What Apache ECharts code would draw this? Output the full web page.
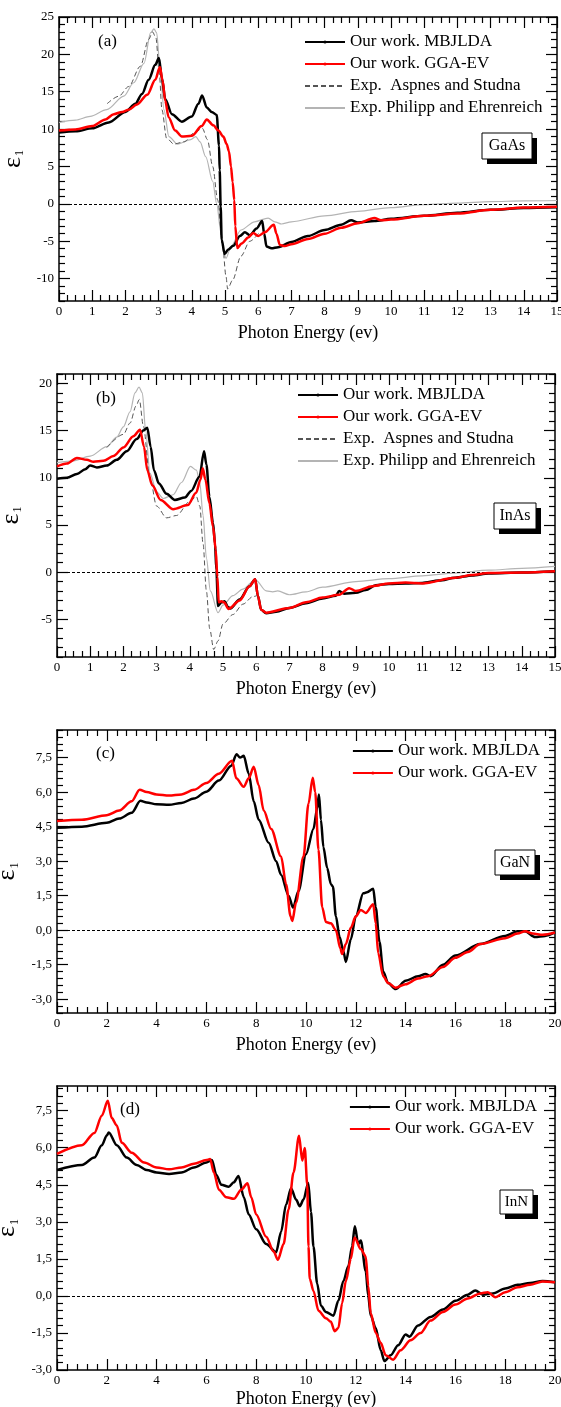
<!DOCTYPE html>
<html>
<head>
<meta charset="utf-8">
<script src="https://cdn.jsdelivr.net/npm/echarts@6/dist/echarts.min.js"></script>
<style>
  html, body { margin: 0; padding: 0; background: #fff; }
  #chart { width: 561px; height: 1407px; }
</style>
</head>
<body>
<div id="chart"></div>
<script>
// ---- data: [photon energy (eV), epsilon_1] ----
const gaasMbj = [[0,9.55],[0.5,9.7],[1,10.1],[1.5,10.9],[2,12.3],[2.3,13.4],[2.5,14.7],[2.7,16.6],[2.9,18.6],[3.01,19.5],[3.1,16.8],[3.2,14],[3.4,12],[3.7,11],[4,11.7],[4.2,13.4],[4.31,14.5],[4.45,12.9],[4.6,12.3],[4.75,11.9],[4.82,7.8],[4.84,4.5],[4.87,-0.4],[4.9,-4.8],[4.99,-6.7],[5.1,-6.1],[5.25,-5.6],[5.45,-4.3],[5.6,-3.8],[5.75,-4.2],[5.95,-3.3],[6.12,-2.3],[6.18,-4],[6.25,-5.7],[6.4,-5.95],[6.6,-5.8],[7,-5.1],[7.5,-4.3],[8,-3.5],[8.5,-2.8],[8.8,-2.2],[9,-2.5],[9.5,-2.3],[10,-2],[11,-1.6],[12,-1.2],[13,-0.8],[14,-0.55],[15,-0.45]];
const gaasGga = [[0,9.8],[0.5,9.95],[1,10.4],[1.4,11.3],[1.65,12],[1.9,12.3],[2.1,12.6],[2.35,13.3],[2.66,14.6],[2.9,16.6],[3.04,18.3],[3.12,16.5],[3.2,13.8],[3.3,11.6],[3.5,9.8],[3.7,9],[4,9.1],[4.3,10.4],[4.45,11.3],[4.65,10.5],[4.8,9.8],[4.95,9],[5.05,8],[5.12,7],[5.18,5],[5.23,2.9],[5.28,0.5],[5.31,-3],[5.37,-5.9],[5.5,-5.3],[5.7,-4.5],[5.85,-3.9],[6,-4.3],[6.2,-3.8],[6.47,-2.8],[6.55,-4],[6.65,-5.5],[6.8,-5.65],[7,-5.4],[7.5,-4.7],[8,-4],[8.5,-3.2],[9,-2.6],[9.5,-1.9],[9.7,-2.2],[10,-2.1],[11,-1.6],[12,-1.3],[13,-0.8],[14,-0.5],[15,-0.4]];
const gaasAsp = [[1.45,13.4],[1.8,14.4],[2.1,15.7],[2.45,18.4],[2.7,22],[2.82,23],[2.92,22.2],[3.02,17.5],[3.1,12.6],[3.24,8.8],[3.46,8],[3.77,8.3],[4.07,9.5],[4.32,10.1],[4.47,8.6],[4.63,5],[4.78,0.5],[4.93,-5.7],[5.03,-9.7],[5.08,-11.4],[5.23,-10.2],[5.48,-7],[5.75,-5],[6.02,-3.9]];
const gaasPhi = [[0,10.9],[0.5,11.2],[0.94,11.7],[1.44,12.6],[1.95,14.4],[2.25,16.2],[2.56,18.8],[2.76,22.9],[2.86,23.4],[2.94,22.9],[3.04,18.4],[3.16,12.6],[3.31,9],[3.57,8],[3.97,8.6],[4.12,9],[4.25,8.3],[4.42,6.3],[4.63,3],[4.75,0],[4.88,-3.9],[4.96,-6.6],[5.03,-7.3],[5.18,-5.7],[5.48,-3.5],[5.89,-2.4],[6.3,-1.9],[6.5,-2.4],[6.7,-2.7],[7,-2.4],[8,-1.6],[9,-1],[10,-0.5],[11,-0.1],[12,0.1],[13,0.3],[14,0.4],[15,0.45]];

const inasMbj = [[0,9.9],[0.3,10],[0.6,10.4],[0.85,10.9],[1,11.3],[1.2,11.1],[1.5,11.3],[1.8,11.9],[2.1,12.8],[2.4,14.1],[2.6,15],[2.72,15.3],[2.82,13.3],[2.92,10.8],[3.07,9.4],[3.3,8.3],[3.55,7.65],[3.85,7.9],[4.04,8.6],[4.29,10.1],[4.43,12.8],[4.5,11.4],[4.59,8],[4.7,5.2],[4.76,3],[4.8,0.2],[4.85,-3.6],[4.95,-3.2],[5.05,-3.1],[5.15,-3.7],[5.22,-3.85],[5.5,-2.9],[5.8,-1.5],[5.97,-0.75],[6.05,-2.5],[6.15,-4],[6.3,-4.35],[6.6,-4.2],[7,-3.8],[7.5,-3.3],[8,-2.8],[8.4,-2.5],[8.5,-2],[8.65,-2.3],[9,-2.2],[9.3,-1.9],[9.6,-1.4],[10,-1.25],[10.5,-1.2],[11,-1.15],[11.5,-0.9],[12,-0.6],[12.5,-0.35],[13,-0.15],[14,-0.05],[15,0.1]];
const inasGga = [[0,11.2],[0.3,11.5],[0.6,12.1],[0.9,11.9],[1.1,11.7],[1.4,11.8],[1.7,12.3],[2,13.2],[2.3,14.4],[2.5,15.1],[2.62,13.3],[2.72,10.8],[2.87,9.2],[3.12,7.65],[3.5,6.67],[3.94,7.1],[4.19,8.4],[4.32,9.8],[4.39,11],[4.47,9.8],[4.59,7.3],[4.7,4.8],[4.78,2.4],[4.83,-0.5],[4.87,-3.2],[4.95,-3.1],[5.03,-3.2],[5.17,-3.9],[5.5,-3],[5.8,-1.5],[5.97,-0.75],[6.05,-2.5],[6.15,-4],[6.3,-4.3],[7,-3.8],[7.5,-3.2],[8,-2.7],[8.5,-2.4],[8.8,-1.7],[9,-2],[9.5,-1.5],[10,-1.2],[10.5,-1.1],[11,-1.2],[12,-0.6],[12.5,-0.3],[13,-0.1],[14,-0.05],[15,0.1]];
const inasAsp = [[1.5,13.2],[2,14.6],[2.2,15.8],[2.38,17.6],[2.48,18.3],[2.6,15.5],[2.8,10],[3,7],[3.3,5.75],[3.6,6],[4,7.5],[4.2,8],[4.3,7],[4.4,3],[4.5,-2],[4.6,-6],[4.72,-8.2],[4.85,-7.3],[5,-5.5],[5.3,-4.5],[5.6,-3.4],[5.9,-2.6],[6.02,-2.5]];
const inasPhi = [[0,11.6],[0.5,11.8],[1,12.3],[1.5,13.3],[1.8,14.3],[2,15.4],[2.2,17],[2.35,19],[2.47,19.6],[2.57,19],[2.67,15],[2.8,10.5],[3,8.5],[3.2,7.8],[3.5,8.2],[3.75,9.5],[4.02,11.2],[4.2,10.8],[4.3,9.5],[4.4,6],[4.5,1.5],[4.62,-2],[4.85,-4.3],[5,-3.5],[5.3,-2.5],[5.6,-1.8],[5.9,-1],[6,-0.9],[6.3,-2],[6.5,-2.1],[6.65,-2],[7,-2.4],[7.5,-2.1],[8,-1.6],[9,-1],[10,-0.7],[11,-0.4],[12,-0.1],[13,0.2],[14,0.4],[15,0.6]];

const ganMbj = [[0,4.45],[1,4.5],[2,4.67],[2.5,4.85],[3,5.1],[3.35,5.62],[3.6,5.55],[4,5.47],[4.5,5.45],[5,5.53],[5.5,5.72],[6,6.02],[6.5,6.5],[7,7.15],[7.21,7.65],[7.35,7.5],[7.5,7.58],[7.7,6.8],[7.9,5.6],[8.1,4.8],[8.5,3.8],[8.8,3],[9,2.4],[9.3,1.5],[9.48,0.98],[9.7,1.7],[10,3.3],[10.3,4.4],[10.45,5.3],[10.52,5.9],[10.6,4.8],[10.7,3.6],[10.85,2.7],[11,2],[11.08,1.9],[11.2,0.6],[11.35,-0.3],[11.5,-0.9],[11.6,-1.38],[11.8,-0.4],[12,0.6],[12.3,1.6],[12.45,1.65],[12.7,1.8],[12.8,1],[12.95,-0.5],[13.1,-1.8],[13.3,-2.3],[13.6,-2.56],[14,-2.2],[14.5,-2],[14.8,-1.9],[15,-2],[15.5,-1.5],[16,-1.1],[17,-0.6],[18,-0.25],[18.5,-0.05],[18.8,-0.05],[19.2,-0.3],[19.6,-0.25],[20,-0.1]];
const ganGga = [[0,4.75],[1,4.8],[2,5],[2.5,5.2],[3,5.6],[3.32,6.1],[3.6,6],[4,5.9],[4.5,5.85],[5,5.9],[5.5,6.1],[6,6.4],[6.5,6.8],[7.03,7.36],[7.2,6.6],[7.5,6.23],[7.7,6.6],[7.9,7.1],[8.1,6.3],[8.3,5.2],[8.6,4.4],[9,3.2],[9.2,2],[9.38,0.6],[9.45,0.4],[9.6,1.2],[9.9,3.2],[10.1,5.5],[10.27,6.63],[10.37,6],[10.5,3.5],[10.65,1],[10.8,0.35],[11,0.3],[11.2,0],[11.38,-0.8],[11.45,-1.04],[11.6,-0.6],[11.8,0.1],[12,0.6],[12.2,0.88],[12.4,0.75],[12.7,1.13],[12.8,0.3],[12.9,-1],[13.1,-2],[13.3,-2.3],[13.6,-2.5],[14,-2.35],[14.5,-2.1],[14.9,-2],[15.5,-1.6],[16,-1.2],[16.5,-0.95],[17,-0.6],[18,-0.35],[18.5,-0.15],[18.8,-0.05],[19.1,-0.15],[19.5,-0.2],[20,-0.1]];

const innMbj = [[0,5.1],[1,5.3],[1.5,5.6],[1.8,6.1],[2,6.5],[2.08,6.62],[2.4,6.1],[2.8,5.6],[3.2,5.3],[3.6,5.1],[4,5],[4.5,4.94],[5,5],[5.5,5.2],[6,5.4],[6.22,5.5],[6.4,4.9],[6.6,4.5],[6.9,4.42],[7.1,4.6],[7.29,4.86],[7.5,4],[7.7,3.3],[8,2.7],[8.4,2.1],[8.8,1.77],[9,2.6],[9.2,3.7],[9.4,4.36],[9.6,3.9],[9.75,3.63],[9.9,3.9],[10.09,4.57],[10.2,3.4],[10.3,2],[10.45,0.5],[10.6,-0.4],[10.8,-0.65],[11.1,-0.8],[11.3,-0.2],[11.5,0.6],[11.7,1.2],[11.85,2],[11.96,2.82],[12.1,2.1],[12.2,2.24],[12.4,1],[12.5,0],[12.6,-0.8],[12.8,-1.3],[13,-2.2],[13.15,-2.64],[13.4,-2.4],[13.7,-2],[14,-1.56],[14.15,-1.65],[14.5,-1.2],[15,-0.85],[15.5,-0.55],[16,-0.2],[16.5,0.05],[16.8,0.22],[17.1,0.05],[17.5,0.1],[18,0.3],[18.5,0.45],[19,0.52],[19.5,0.6],[20,0.55]];
const innGga = [[0,5.75],[1,6.1],[1.5,6.6],[1.8,7.3],[2.04,7.9],[2.2,7.2],[2.4,6.9],[2.6,6.2],[3,5.8],[3.5,5.4],[4,5.2],[4.5,5.13],[5,5.2],[5.5,5.35],[6,5.5],[6.15,5.54],[6.3,5],[6.5,4.3],[6.8,4],[7.1,3.93],[7.4,4.3],[7.65,4.56],[7.8,4],[8,3.3],[8.4,2.4],[8.7,1.8],[8.87,1.46],[9.1,2.1],[9.3,3.5],[9.5,5],[9.72,6.49],[9.85,5.48],[9.95,5.99],[10.05,4.5],[10.1,2],[10.15,0.7],[10.3,0.2],[10.5,-0.6],[10.8,-0.9],[11,-1.05],[11.15,-1.43],[11.3,-1.3],[11.45,-0.3],[11.6,0.6],[11.8,1.5],[11.95,2.37],[12.2,1.9],[12.4,1.6],[12.5,0.4],[12.6,-0.7],[12.8,-1.5],[13,-1.9],[13.2,-2.4],[13.5,-2.58],[13.8,-2.2],[14.2,-1.8],[14.6,-1.5],[15,-1],[15.5,-0.65],[16,-0.35],[16.5,-0.1],[17,0.1],[17.3,0.15],[17.6,-0.05],[18,0.15],[18.5,0.35],[19,0.45],[19.5,0.58],[20,0.55]];

// ---- tick labels ----
const xTicks15 = [0,1,2,3,4,5,6,7,8,9,10,11,12,13,14,15];
const xTicks20 = [0,2,4,6,8,10,12,14,16,18,20];
const yTicksA = [-10,-5,0,5,10,15,20,25];
const yTicksB = [-5,0,5,10,15,20];
const yTicksC = [-3,-1.5,0,1.5,3,4.5,6,7.5];
const yTicksD = [-3,-1.5,0,1.5,3,4.5,6,7.5];

const names = ["Our work. MBJLDA", "Our work. GGA-EV", "Exp.  Aspnes and Studna", "Exp. Philipp and Ehrenreich"];
const FONT = "Liberation Serif";

function steps(min, max, step) {
  const out = [];
  for (let k = Math.ceil(min / step - 1e-9); k * step <= max + 1e-9; k++) {
    out.push(Math.round(k * step * 100) / 100);
  }
  return out;
}

const panels = [
  { tag: "(a)", mat: "GaAs", xMax: 15, yMin: -13, yMax: 25, xTicks: xTicks15, xMinor: 0.25, yTicks: yTicksA, yMinor: 1, comma: false,
    grid: { left: 59, top: 17, width: 498, height: 284 }, tagPos: [98, 33], legPos: [304, 33], titleGap: 23,
    box: [482, 133, 50, 26, 16], sets: [gaasMbj, gaasGga, gaasAsp, gaasPhi] },
  { tag: "(b)", mat: "InAs", xMax: 15, yMin: -9, yMax: 21, xTicks: xTicks15, xMinor: 0.25, yTicks: yTicksB, yMinor: 1, comma: false,
    grid: { left: 57, top: 374, width: 498, height: 283 }, tagPos: [96, 390], legPos: [297, 386], titleGap: 23,
    box: [494, 503, 42, 26, 16], sets: [inasMbj, inasGga, inasAsp, inasPhi] },
  { tag: "(c)", mat: "GaN", xMax: 20, yMin: -3.6, yMax: 8.7, xTicks: xTicks20, xMinor: 0.4, yTicks: yTicksC, yMinor: 0.3, comma: true,
    grid: { left: 57, top: 730, width: 498, height: 283 }, tagPos: [96, 745], legPos: [352, 742], titleGap: 23,
    box: [495, 850, 40, 25, 16], sets: [ganMbj, ganGga] },
  { tag: "(d)", mat: "InN", xMax: 20, yMin: -3, yMax: 8.5, xTicks: xTicks20, xMinor: 0.4, yTicks: yTicksD, yMinor: 0.3, comma: true,
    grid: { left: 57, top: 1086, width: 498, height: 284 }, tagPos: [120, 1101], legPos: [349, 1098], titleGap: 20,
    box: [500, 1190, 33, 24, 15], sets: [innMbj, innGga] }
];

const black = "#000";
const axisLine = { show: true, onZero: false, lineStyle: { color: black, width: 1.5 } };
const noLine = { show: false, onZero: false };

function tickAxis(gi, min, max, pos, values, len, withLine) {
  return {
    type: "value", gridIndex: gi, min: min, max: max, position: pos,
    axisLine: withLine ? axisLine : noLine,
    axisTick: { show: true, inside: true, length: len, customValues: values, lineStyle: { color: black, width: 1.2 } },
    axisLabel: { show: false },
    splitLine: { show: false },
    silent: true
  };
}

const xAxes = [], yAxes = [], grids = [], series = [], legends = [], titles = [], graphics = [];

panels.forEach(function (p, gi) {
  grids.push(Object.assign({ outerBoundsMode: "none", containLabel: false }, p.grid));
  const fmt = function (v) { return p.comma ? v.toFixed(1).replace(".", ",") : String(v); };
  const xMinors = steps(0, p.xMax, p.xMinor).filter(function (v) { return p.xTicks.indexOf(v) < 0; });
  const yMinors = steps(p.yMin, p.yMax, p.yMinor).filter(function (v) { return p.yTicks.indexOf(v) < 0; });

  const xMain = tickAxis(gi, 0, p.xMax, "bottom", p.xTicks, 11, true);
  xMain.axisLabel = { show: true, customValues: p.xTicks, color: black, fontSize: 13, fontFamily: FONT, margin: 4 };
  xMain.name = "Photon Energy (ev)";
  xMain.nameLocation = "middle";
  xMain.nameGap = p.titleGap;
  xMain.nameTextStyle = { color: black, fontSize: 18, fontFamily: FONT };
  xAxes.push(xMain,
    tickAxis(gi, 0, p.xMax, "bottom", xMinors, 6, false),
    tickAxis(gi, 0, p.xMax, "top", p.xTicks, 11, true),
    tickAxis(gi, 0, p.xMax, "top", xMinors, 6, false));

  const yMain = tickAxis(gi, p.yMin, p.yMax, "left", p.yTicks, 11, true);
  yMain.axisLabel = { show: true, customValues: p.yTicks, color: black, fontSize: 13, fontFamily: FONT, margin: 5, formatter: fmt };
  yMain.name = "{e|\u03b5}{s|1}";
  yMain.nameLocation = "middle";
  yMain.nameGap = 33;
  yMain.nameRotate = 90;
  yMain.nameTextStyle = { rich: {
    e: { fontSize: 26, fontFamily: FONT, color: black },
    s: { fontSize: 12, fontFamily: FONT, color: black, verticalAlign: "bottom", padding: [14, 0, 0, 1] }
  } };
  yAxes.push(yMain,
    tickAxis(gi, p.yMin, p.yMax, "left", yMinors, 6, false),
    tickAxis(gi, p.yMin, p.yMax, "right", p.yTicks, 11, true),
    tickAxis(gi, p.yMin, p.yMax, "right", yMinors, 6, false));

  const styles = [
    { color: "#000", width: 2.5, type: "solid", z: 4 },
    { color: "#ff0000", width: 2.5, type: "solid", z: 5 },
    { color: "#555", width: 1, type: [5, 3], z: 3 },
    { color: "#b4b4b4", width: 1.2, type: "solid", z: 2 }
  ];
  p.sets.forEach(function (d, si) {
    const st = styles[si];
    const s = {
      name: names[si], type: "line", data: d,
      xAxisIndex: gi * 4, yAxisIndex: gi * 4,
      smooth: 0.3, smoothMonotone: "x",
      symbol: si < 2 ? "circle" : "none", symbolSize: 4, showSymbol: false,
      color: st.color,
      lineStyle: { color: st.color, width: st.width, type: st.type },
      z: st.z, silent: true
    };
    if (si === 0) {
      s.markLine = {
        silent: true, symbol: "none", animation: false,
        label: { show: false },
        lineStyle: { color: black, width: 1, type: [3, 2] },
        data: [{ yAxis: 0 }]
      };
    }
    series.push(s);
  });

  legends.push({
    data: names.slice(0, p.sets.length).map(function (n, si) {
      return si < 2
        ? { name: n, lineStyle: { width: 1.8 } }
        : { name: n, itemStyle: { opacity: 0 } };
    }),
    orient: "vertical", left: p.legPos[0], top: p.legPos[1],
    padding: 0, itemWidth: 40, itemHeight: 4, itemGap: 4,
    selectedMode: false,
    textStyle: { color: black, fontSize: 17, fontFamily: FONT, lineHeight: 18 }
  });

  titles.push({
    text: p.tag, left: p.tagPos[0], top: p.tagPos[1], padding: 0,
    textStyle: { color: black, fontSize: 17, fontWeight: "normal", fontFamily: FONT }
  });

  const b = p.box;
  graphics.push(
    { type: "rect", shape: { x: b[0] + 5, y: b[1] + 5, width: b[2], height: b[3] }, style: { fill: black }, z: 100 },
    { type: "rect", shape: { x: b[0], y: b[1], width: b[2], height: b[3] }, style: { fill: "#fff", stroke: black, lineWidth: 1 }, z: 101 },
    { type: "text", x: b[0] + b[2] / 2, y: b[1] + b[3] / 2, z: 102,
      style: { text: p.mat, fill: black, font: b[4] + "px " + FONT, align: "center", verticalAlign: "middle" } }
  );
});

const chart = echarts.init(document.getElementById("chart"));
chart.setOption({
  animation: false,
  backgroundColor: "#fff",
  grid: grids,
  xAxis: xAxes,
  yAxis: yAxes,
  legend: legends,
  title: titles,
  graphic: graphics,
  series: series
});
</script>
</body>
</html>
